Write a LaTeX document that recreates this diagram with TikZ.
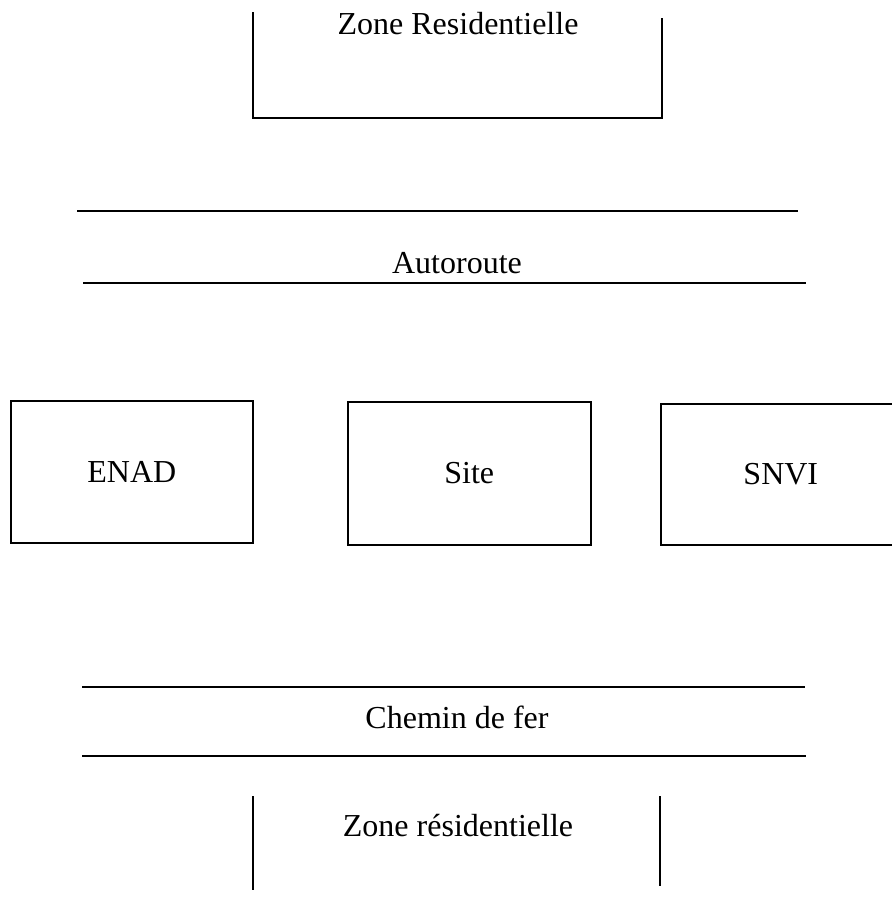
\documentclass[tikz,border=0pt]{standalone}
\usepackage{fontspec}
\setmainfont{Liberation Serif}
\begin{document}
\begin{tikzpicture}[x=1pt,y=-1pt,
  ln/.style={line width=1.6pt,black},
  lbl/.style={font=\fontsize{32}{36}\selectfont,inner sep=0pt,anchor=base},
  bx/.style={draw,line width=1.6pt,anchor=north west,inner sep=0pt,font=\fontsize{32}{36}\selectfont}]
\useasboundingbox (0,0) rectangle (892,914);
% top residential zone
\draw[ln] (253,12) -- (253,118) -- (662,118) -- (662,18);
\node[lbl] (zr1) at (458,34) {Zone Residentielle};
% autoroute
\draw[ln] (77,211) -- (798,211);
\draw[ln] (83,283) -- (806,283);
\node[lbl] (auto) at (457,273) {Autoroute};
% boxes
\node[bx,minimum width=242pt,minimum height=142pt] (enad) at (10,400) {ENAD};
\node[bx,minimum width=243pt,minimum height=143pt] (site) at (347,401) {Site};
\node[bx,minimum width=240pt,minimum height=141pt] (snvi) at (660,403) {SNVI};
% chemin de fer
\draw[ln] (82,687) -- (805,687);
\draw[ln] (82,756) -- (806,756);
\node[lbl] (cdf) at (457,728) {Chemin de fer};
% bottom residential zone
\draw[ln] (253,796) -- (253,890);
\draw[ln] (660,796) -- (660,886);
\node[lbl] (zr2) at (458,836) {Zone résidentielle};
\end{tikzpicture}
\end{document}
